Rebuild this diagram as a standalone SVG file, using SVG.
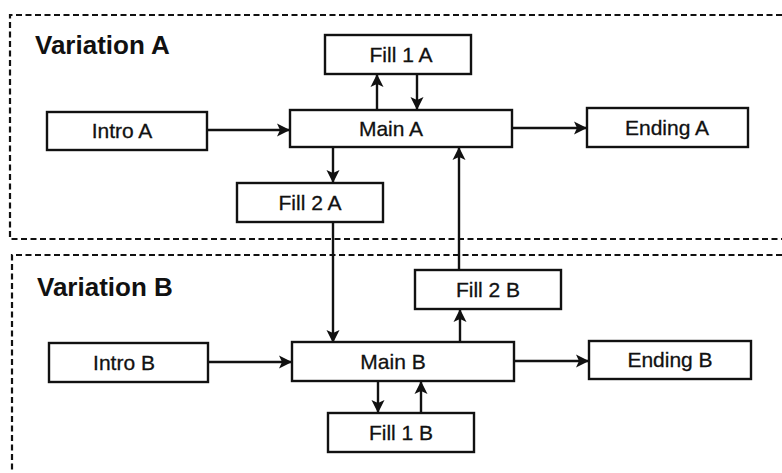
<svg xmlns="http://www.w3.org/2000/svg" width="782" height="473" viewBox="0 0 782 473">
<style>
.bg{fill:#ffffff}
.region{fill:none;stroke:#111;stroke-width:2.2;stroke-dasharray:6 3.5}
.box{fill:#ffffff;stroke:#111;stroke-width:2.4}
.lbl{font-family:"Liberation Sans",Arial,sans-serif;font-size:21px;fill:#111;text-anchor:middle;stroke:#111;stroke-width:0.3}
.title{font-family:"Liberation Sans",Arial,sans-serif;font-size:26px;font-weight:bold;fill:#111}
.edge{fill:none;stroke:#111;stroke-width:2.4;marker-end:url(#arr)}
</style>
<defs>
<marker id="arr" markerUnits="userSpaceOnUse" markerWidth="14" markerHeight="14" viewBox="0 0 14 14" refX="13" refY="7" orient="auto">
<path d="M0,0.5 L13,7 L0,13.5 L3,7 Z" fill="#111"/>
</marker>
</defs>
<rect class="bg" x="0" y="0" width="782" height="473"/>
<g id="regions">
<path class="region" d="M782,15 H10 V239 H782"/>
<path class="region" d="M782,255 H12 V473"/>
<text class="title" x="35" y="54">Variation A</text>
<text class="title" x="37" y="296">Variation B</text>
</g>
<g id="connectors">
<path class="edge" d="M207,130 H290"/>
<path class="edge" d="M512,128 H587"/>
<path class="edge" d="M377,110 V74"/>
<path class="edge" d="M417,74 V110"/>
<path class="edge" d="M333,147 V183"/>
<path class="edge" d="M459,270 V147"/>
<path class="edge" d="M333,222 V343"/>
<path class="edge" d="M208,362 H292"/>
<path class="edge" d="M514,361 H589"/>
<path class="edge" d="M378,381 V413"/>
<path class="edge" d="M421,413 V381"/>
<path class="edge" d="M460,342 V309"/>
</g>
<g id="introA"><rect class="box" x="47" y="112" width="160" height="38"/><text class="lbl" x="122" y="138">Intro A</text></g>
<g id="mainA"><rect class="box" x="290" y="110" width="222" height="37"/><text class="lbl" x="391" y="136">Main A</text></g>
<g id="fill1A"><rect class="box" x="325" y="35" width="146" height="39"/><text class="lbl" x="401" y="62">Fill 1 A</text></g>
<g id="endingA"><rect class="box" x="587" y="108" width="161" height="39"/><text class="lbl" x="667" y="135">Ending A</text></g>
<g id="fill2A"><rect class="box" x="237" y="183" width="146" height="39"/><text class="lbl" x="310" y="210">Fill 2 A</text></g>
<g id="introB"><rect class="box" x="49" y="343" width="159" height="39"/><text class="lbl" x="124" y="370">Intro B</text></g>
<g id="mainB"><rect class="box" x="292" y="342" width="222" height="39"/><text class="lbl" x="393" y="369">Main B</text></g>
<g id="fill2B"><rect class="box" x="415" y="270" width="146" height="39"/><text class="lbl" x="488" y="297">Fill 2 B</text></g>
<g id="endingB"><rect class="box" x="589" y="341" width="162" height="38"/><text class="lbl" x="670" y="367">Ending B</text></g>
<g id="fill1B"><rect class="box" x="328" y="413" width="146" height="39"/><text class="lbl" x="401" y="440">Fill 1 B</text></g>
</svg>
